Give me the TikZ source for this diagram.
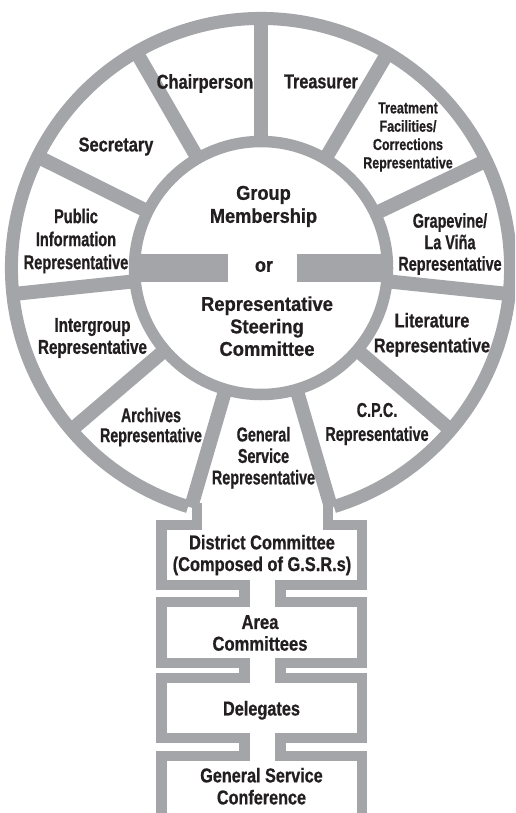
\documentclass[tikz,border=0pt]{standalone}
\usepackage{fontspec}
\setmainfont{Liberation Sans}
\usetikzlibrary{calc}
\definecolor{band}{RGB}{163,165,168}
\definecolor{ink}{RGB}{35,31,32}
\newcommand\lf[3]{\fontspec{Liberation Sans}[FakeStretch=#3,FakeBold=0.7]\bfseries\fontsize{#1}{#2}\selectfont}
\begin{document}
\begin{tikzpicture}[x=1pt,y=-1pt,
  outerring/.style={draw=band,line width=13pt},
  innerring/.style={draw=band,line width=11.5pt},
  spoke/.style={draw=band,line width=14pt},
  stem/.style={draw=band,line width=10.5pt,miter limit=10},
  bar/.style={fill=band},
  lab/.style={inner sep=0pt,align=center,text=ink}]
\useasboundingbox (0,0) rectangle (515,813);
\clip (0,0) rectangle (515,813);
\fill[white] (0,0) rectangle (515,813);
\coordinate (c) at (261,268);
% outer ring, open at the bottom
\draw[outerring] (c) ++(107:249.5) arc[start angle=107,end angle=433,radius=249.5];
% inner circle
\draw[innerring] (c) circle[radius=126.5];
% spokes
\begin{scope}[shift={(c)}]
  \foreach \a in {-90,-120,-59.5,-153.5,-25.5,174,6,139.5,40.5,106.3,73.7}
    \draw[spoke] (\a:126) -- (\a:249.5);
\end{scope}
% horizontal bars in the centre
\fill[bar] (134,253.5) rectangle (228,281.5);
\fill[bar] (297,253.5) rectangle (388,281.5);
% stem of boxes
\draw[stem] (197,503) -- (197,525) -- (161.5,525) -- (161.5,585) -- (244.5,585) -- (244.5,602)
  -- (161.5,602) -- (161.5,663) -- (244.5,663) -- (244.5,678) -- (161.5,678) -- (161.5,738)
  -- (244.5,738) -- (244.5,756) -- (161.5,756) -- (161.5,830);
\draw[stem] (328,503) -- (328,525) -- (362,525) -- (362,585) -- (280.5,585) -- (280.5,602)
  -- (362,602) -- (362,663) -- (280.5,663) -- (280.5,678) -- (362,678) -- (362,738)
  -- (280.5,738) -- (280.5,756) -- (362,756) -- (362,830);
% labels
\node[lab,font={\lf{20}{23}{0.82}}] (chair) at (205,83.5) {Chairperson};
\node[lab,font={\lf{20}{23}{0.81}}] (treas) at (321,81.5) {Treasurer};
\node[lab,font={\lf{20}{23}{0.82}}] (sec) at (116,146.5) {Secretary};
\node[lab,font={\lf{16}{18.3}{0.78}}] (treat) at (408,137) {Treatment\\Facilities/\\Corrections\\Representative};
\node[lab,font={\lf{20}{23}{0.91}}] (grp) at (263.5,206.4) {Group\\Membership};
\node[lab,font={\lf{20}{23}{0.73}}] (pi) at (76,241) {Public\\Information\\Representative};
\node[lab,font={\lf{20}{21.5}{0.72}}] (grape) at (450,244) {Grapevine/\\La Viña\\Representative};
\node[lab,font={\lf{20}{23}{0.9}}] (or) at (264,266.5) {or};
\node[lab,font={\lf{20}{22.5}{0.92}}] (rsc) at (267,326.2) {Representative\\Steering\\Committee};
\node[lab,font={\lf{20}{22}{0.76}}] (inter) at (92.5,338) {Intergroup\\Representative};
\node[lab,font={\lf{20}{25}{0.81}}] (lit) at (432,334.7) {Literature\\Representative};
\node[lab,font={\lf{20}{20}{0.71}}] (arch) at (151,427) {Archives\\Representative};
\node[lab,font={\lf{20}{24}{0.72}}] (cpc) at (377,424) {C.P.C.\\Representative};
\node[lab,font={\lf{20}{21.5}{0.72}}] (gsr) at (263.5,457.7) {General\\Service\\Representative};
\node[lab,font={\lf{20}{21.7}{0.82}}] (dist) at (262,555) {District Committee\\(Composed of G.S.R.s)};
\node[lab,font={\lf{20}{21.7}{0.83}}] (area) at (260,633) {Area\\Committees};
\node[lab,font={\lf{20}{22}{0.815}}] (deleg) at (261.5,710.3) {Delegates};
\node[lab,font={\lf{20}{22}{0.81}}] (gsc) at (261.5,786.2) {General Service\\Conference};
\end{tikzpicture}
\end{document}
